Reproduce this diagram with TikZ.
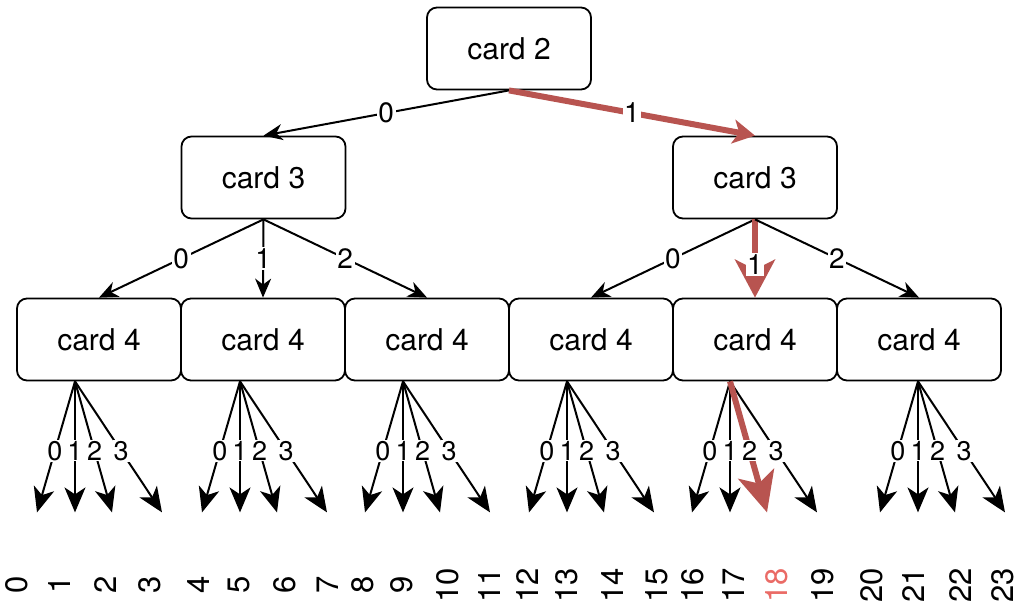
\documentclass[tikz,border=0pt]{standalone}
\usepackage{fontspec}
\setmainfont{TeX Gyre Heros}
\usetikzlibrary{arrows.meta,calc}
\definecolor{pathred}{HTML}{B85450}
\definecolor{leafred}{HTML}{EA6B66}

\begin{document}
\begin{tikzpicture}[x=1pt,y=-1pt,
  card/.style={draw, line width=1.8pt, rounded corners=10pt,
    minimum width=164pt, minimum height=82pt, inner sep=0pt,
    font=\fontsize{30}{30}\selectfont},
  edge/.style={draw, line width=2pt,
    -{Stealth[length=19pt,width=16pt,inset=6pt]}},
  hot/.style={draw=pathred, line width=6pt},
  elabel/.style={fill=white, inner sep=1.5pt,
    font=\fontsize{28}{28}\selectfont},
  llabel/.style={fill=white, inner sep=1pt, pos=0.53,
    font=\fontsize{27}{27}\selectfont},
  leaf/.style={draw, line width=2pt,
    -{Stealth[length=25pt,width=21pt,inset=7pt]}},
  idx/.style={rotate=90, inner sep=0pt, font=\fontsize{31}{31}\selectfont}
]
\useasboundingbox (0,0) rectangle (1019,602);

% decision nodes
\node[card] (top) at (509,48.5) {card 2};
\node[card] (l) at (263.5,177.5) {card 3};
\node[card] (r) at (755,177.5) {card 3};
\foreach \i/\x in {1/99,2/263,3/427,4/591,5/755,6/919}
  \node[card] (c\i) at (\x,339.5) {card 4};

% first level
\draw[edge] (top.south) -- node[elabel] {0} (l.north);
\draw[hot, -{Stealth[length=22pt,width=24pt,inset=6pt]}]
  (top.south) -- node[elabel] {1} (r.north);

% second level
\draw[edge] (l.south) -- node[elabel] {0} (c1.north);
\draw[edge] (l.south) -- node[elabel] {1} (c2.north);
\draw[edge] (l.south) -- node[elabel] {2} (c3.north);
\draw[edge] (r.south) -- node[elabel] {0} (c4.north);
\draw[hot, -{Stealth[length=38pt,width=40pt,inset=10pt]}]
  (r.south) -- node[elabel, pos=0.58] {1} (c5.north);
\draw[edge] (r.south) -- node[elabel] {2} (c6.north);

% fan-out origins and leaf tips
\foreach \i/\dx in {1/-24,2/-23,3/-24,4/-24,5/-25,6/-1}
  \coordinate (o\i) at ([xshift=\dx pt]c\i.south);
\foreach \i in {1,...,6}
  \foreach \k/\off in {0/-38,1/0,2/37,3/87}
    \coordinate (t\i\k) at ($(o\i)+(\off,131)$);

% leaf edges
\foreach \i in {1,...,6}
  \foreach \k in {0,...,3} {
    \ifnum\i\k=52 \else
      \draw[leaf] (o\i) -- node[llabel] {\k} (t\i\k);
    \fi
  }
\draw[hot, -{Stealth[length=40pt,width=37pt,inset=10pt]}]
  (o5) -- node[llabel] {2} (t52);

% leaf indices
\foreach \j/\x in {0/17,1/60,2/106,3/150,4/199,5/239,6/285,7/328,8/363,
    9/402,10/448,11/490,12/528,13/567,14/613,15/657,16/693,17/733,
    19/823,20/872,21/913,22/960,23/1003}
  \node[idx] (n\j) at (\x,585) {\j};
\node[idx, text=leafred] (n18) at (777,585) {18};
\end{tikzpicture}
\end{document}
